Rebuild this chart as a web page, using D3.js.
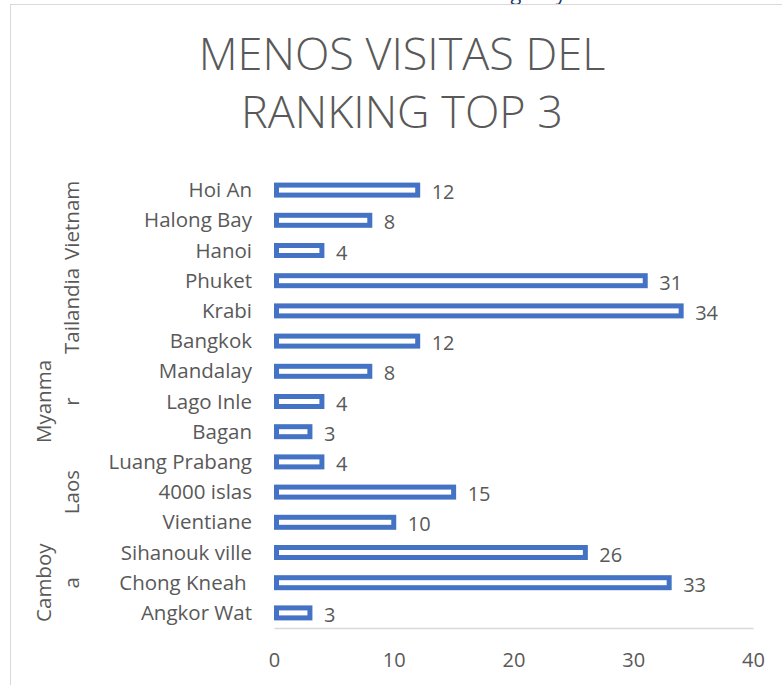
<!DOCTYPE html>
<html lang="es">
<head>
<meta charset="UTF-8">
<title>Menos visitas del ranking top 3</title>
<script src="https://cdn.jsdelivr.net/npm/d3@7"></script>
<style>
  body { margin: 0; background: #fff; }
  svg text { font-family: 'Open Sans', sans-serif; fill: #595959; }
  .cat { white-space: pre; }
</style>
</head>
<body>
<div id="chart"></div>
<script>
// data (bottom to top, as in the source sheet)
var places = ["Angkor Wat", "Chong Kneah ", "Sihanouk ville", "Vientiane", "4000 islas",
              "Luang Prabang", "Bagan", "Lago Inle", "Mandalay", "Bangkok", "Krabi",
              "Phuket", "Hanoi", "Halong Bay", "Hoi An"];
var visits = [3, 33, 26, 10, 15, 4, 3, 4, 8, 12, 34, 31, 4, 8, 12];
var placeCountry = ["Camboya", "Camboya", "Camboya", "Laos", "Laos", "Laos",
                    "Myanmar", "Myanmar", "Myanmar", "Tailandia", "Tailandia", "Tailandia",
                    "Vietnam", "Vietnam", "Vietnam"];
var countries = ["Camboya", "Laos", "Myanmar", "Tailandia", "Vietnam"];
// group labels as they wrap in the picture
var countryLines = [["Camboy", "a"], ["Laos"], ["Myanma", "r"], ["Tailandia"], ["Vietnam"]];
var xTicks = [0, 10, 20, 30, 40];
var titleLines = ["MENOS VISITAS DEL", "RANKING TOP 3"];

var W = 782, H = 685;
var blue = "#4472c4", grey = "#595959", line = "#d9d9d9";

var svg = d3.select("#chart").append("svg")
    .attr("width", W)
    .attr("height", H);

// cut-off text from above the chart
svg.append("text")
    .attr("x", 491).attr("y", 0)
    .style("font-size", "20px")
    .style("fill", "#203864")
    .text("región y");

svg.append("rect")
    .attr("x", 10.5).attr("y", 4.5)
    .attr("width", 900).attr("height", 900)
    .attr("fill", "#fff")
    .attr("stroke", line);

svg.append("g").selectAll("text")
    .data(titleLines)
    .enter().append("text")
    .attr("x", 402)
    .attr("y", function(d, i) { return 70 + i * 58; })
    .attr("text-anchor", "middle")
    .style("font-size", "45px")
    .style("font-weight", 300)
    .text(function(d) { return d; });

var x = d3.scaleLinear().domain([0, 40]).range([274, 753]);
var y = d3.scaleBand()
    .domain(places.slice().reverse())
    .range([175, 628]);

var rows = places.map(function(p, i) { return {place: p, value: visits[i], country: placeCountry[i]}; });

// axis
var axis = svg.append("g")
    .attr("transform", "translate(0,628)")
    .call(d3.axisBottom(x).tickValues(xTicks).tickSize(0).tickPadding(25));
axis.select(".domain").attr("stroke", line).attr("stroke-width", 1.5);
axis.selectAll("text")
    .style("font-size", "20px")
    .attr("fill", grey)
    .style("font-family", "'Open Sans', sans-serif");

var bars = svg.append("g");
bars.selectAll("rect")
    .data(rows)
    .enter().append("rect")
    .attr("x", x(0) + 2.5)
    .attr("y", function(d) { return y(d.place) + y.bandwidth() / 2 - 5; })
    .attr("width", function(d) { return x(d.value) - x(0) - 2.5; })
    .attr("height", 10)
    .attr("fill", "#fff")
    .attr("stroke", blue)
    .attr("stroke-width", 5);

bars.selectAll("text")
    .data(rows)
    .enter().append("text")
    .attr("x", function(d) { return x(d.value) + 14; })
    .attr("y", function(d) { return y(d.place) + y.bandwidth() / 2 + 9; })
    .style("font-size", "20px")
    .text(function(d) { return d.value; });

// category labels
svg.append("g").selectAll("text")
    .data(rows)
    .enter().append("text")
    .attr("class", "cat")
    .attr("x", 252)
    .attr("y", function(d) { return y(d.place) + y.bandwidth() / 2 + 7; })
    .attr("text-anchor", "end")
    .style("font-size", "20.5px")
    .text(function(d) { return d.place; });

// country labels, rotated, stacked from the right
countries.forEach(function(c, ci) {
  var ys = rows.filter(function(r) { return r.country === c; })
               .map(function(r) { return y(r.place) + y.bandwidth() / 2; });
  var cy = d3.mean(ys);
  var lines = countryLines[ci];
  lines.forEach(function(t, li) {
    var bx = 79 - (lines.length - 1 - li) * 28;
    svg.append("text")
        .attr("transform", "translate(" + bx + "," + cy + ") rotate(-90)")
        .attr("text-anchor", "middle")
        .style("font-size", "20.5px")
        .text(t);
  });
});
</script>
</body>
</html>
